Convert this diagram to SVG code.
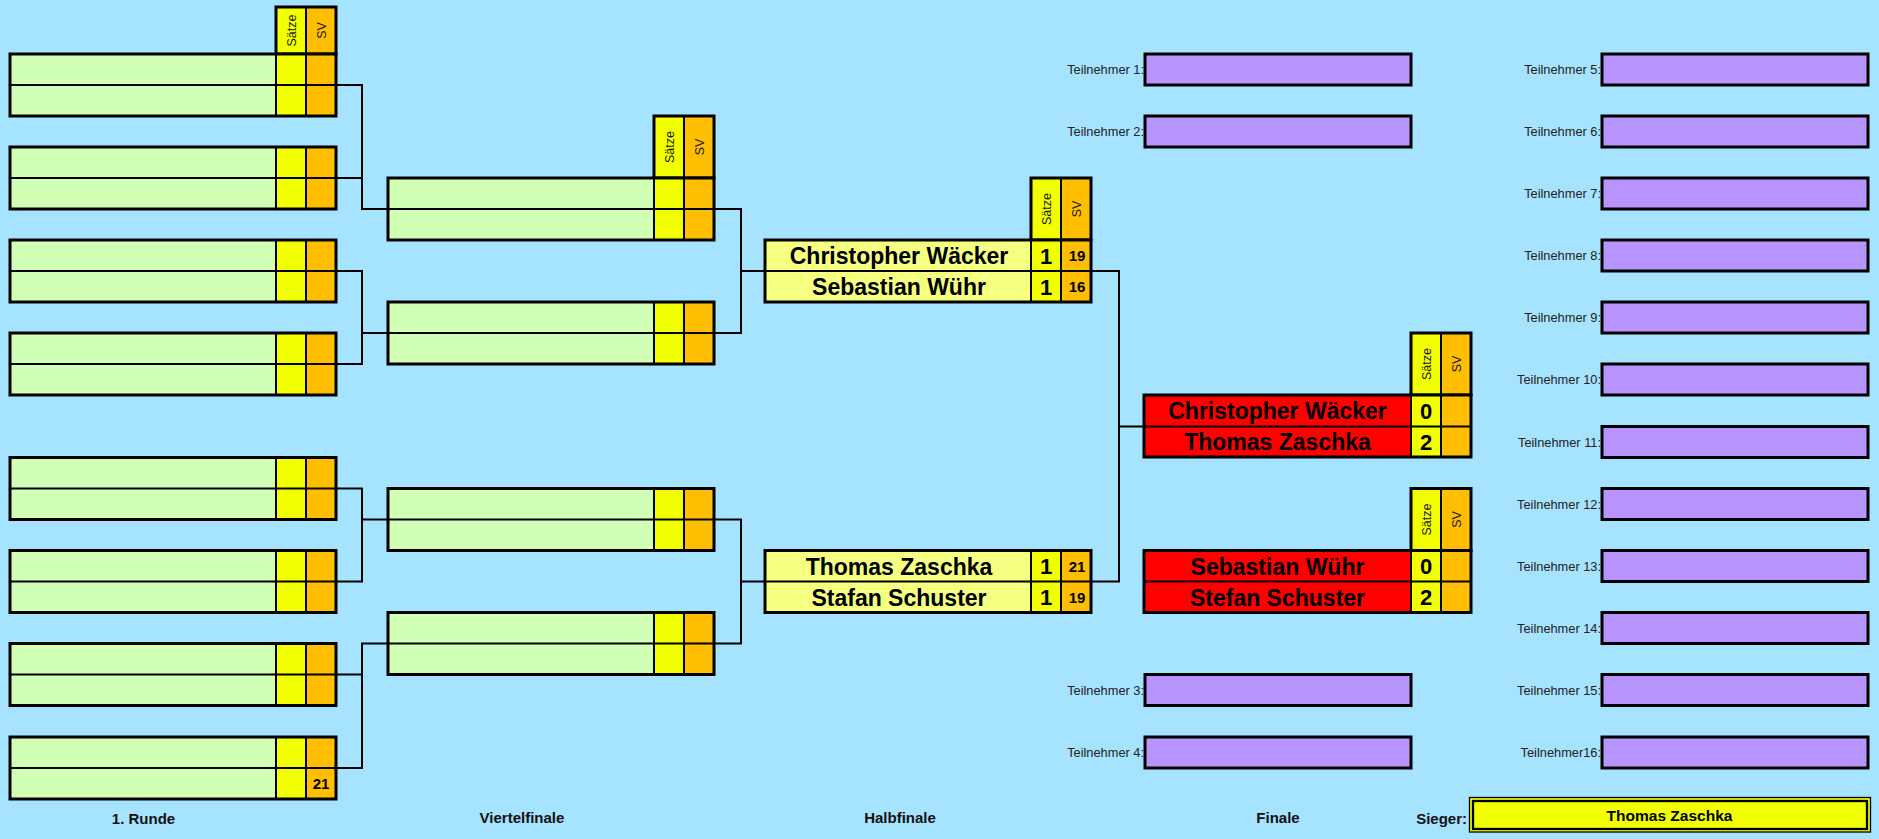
<svg xmlns="http://www.w3.org/2000/svg" width="1879" height="839" viewBox="0 0 1879 839">
<style>
.bg{fill:#A6E3FF}
.gr{fill:#D2FFB6}
.ye{fill:#F2FF00}
.or{fill:#FFBF00}
.ly{fill:#F5FF80}
.rd{fill:#FF0000}
.pu{fill:#B894FF}
.ol{fill:none;stroke:#000;stroke-width:3}
.il{fill:none;stroke:#000;stroke-width:2}
.cn{fill:none;stroke:#000;stroke-width:2}
text{font-family:"Liberation Sans",Arial,sans-serif;fill:#000}
.hd{font-size:12.5px;fill:#1a1a1a;text-anchor:middle}
.nm{font-size:23px;font-weight:bold;text-anchor:middle}
.st{font-size:22px;font-weight:bold;text-anchor:middle}
.sv{font-size:15px;font-weight:bold;text-anchor:middle}
.lb{font-size:12.8px;fill:#222;text-anchor:end}
.rn{font-size:15px;font-weight:bold;text-anchor:middle;fill:#111}
</style>
<rect class="bg" x="0" y="0" width="1879" height="839"/>

<g id="connectors">
<path class="cn" d="M336 85H362V209H388M336 178H362"/>
<path class="cn" d="M336 271H362V364H336M362 333H388"/>
<path class="cn" d="M336 488.5H362V581.5H336M362 519.5H388"/>
<path class="cn" d="M336 674.5H362M336 768H362V643.5H388"/>
<path class="cn" d="M714 209H741V333H714M741 271H765"/>
<path class="cn" d="M714 519.5H741V643.5H714M741 581.5H765"/>
<path class="cn" d="M1091 271H1119V581.5H1091M1119 426.5H1144"/>
</g>

<!-- Round 1 -->
<g id="r1-m1">
<rect class="ye" x="276" y="7" width="30" height="47"/><rect class="or" x="306" y="7" width="30" height="47"/>
<path class="il" d="M306 7V54"/><rect class="ol" x="276" y="7" width="60" height="47"/>
<text class="hd" transform="translate(295.5 30.5) rotate(-90)">Sätze</text>
<text class="hd" transform="translate(325.5 30.5) rotate(-90)">SV</text>
<rect class="gr" x="10" y="54" width="266" height="62"/><rect class="ye" x="276" y="54" width="30" height="62"/><rect class="or" x="306" y="54" width="30" height="62"/>
<path class="il" d="M10 85H336M276 54V116M306 54V116"/><rect class="ol" x="10" y="54" width="326" height="62"/>
</g>
<g id="r1-m2">
<rect class="gr" x="10" y="147" width="266" height="62"/><rect class="ye" x="276" y="147" width="30" height="62"/><rect class="or" x="306" y="147" width="30" height="62"/>
<path class="il" d="M10 178H336M276 147V209M306 147V209"/><rect class="ol" x="10" y="147" width="326" height="62"/>
</g>
<g id="r1-m3">
<rect class="gr" x="10" y="240" width="266" height="62"/><rect class="ye" x="276" y="240" width="30" height="62"/><rect class="or" x="306" y="240" width="30" height="62"/>
<path class="il" d="M10 271H336M276 240V302M306 240V302"/><rect class="ol" x="10" y="240" width="326" height="62"/>
</g>
<g id="r1-m4">
<rect class="gr" x="10" y="333" width="266" height="62"/><rect class="ye" x="276" y="333" width="30" height="62"/><rect class="or" x="306" y="333" width="30" height="62"/>
<path class="il" d="M10 364H336M276 333V395M306 333V395"/><rect class="ol" x="10" y="333" width="326" height="62"/>
</g>
<g id="r1-m5">
<rect class="gr" x="10" y="457.5" width="266" height="62"/><rect class="ye" x="276" y="457.5" width="30" height="62"/><rect class="or" x="306" y="457.5" width="30" height="62"/>
<path class="il" d="M10 488.5H336M276 457.5V519.5M306 457.5V519.5"/><rect class="ol" x="10" y="457.5" width="326" height="62"/>
</g>
<g id="r1-m6">
<rect class="gr" x="10" y="550.5" width="266" height="62"/><rect class="ye" x="276" y="550.5" width="30" height="62"/><rect class="or" x="306" y="550.5" width="30" height="62"/>
<path class="il" d="M10 581.5H336M276 550.5V612.5M306 550.5V612.5"/><rect class="ol" x="10" y="550.5" width="326" height="62"/>
</g>
<g id="r1-m7">
<rect class="gr" x="10" y="643.5" width="266" height="62"/><rect class="ye" x="276" y="643.5" width="30" height="62"/><rect class="or" x="306" y="643.5" width="30" height="62"/>
<path class="il" d="M10 674.5H336M276 643.5V705.5M306 643.5V705.5"/><rect class="ol" x="10" y="643.5" width="326" height="62"/>
</g>
<g id="r1-m8">
<rect class="gr" x="10" y="737" width="266" height="62"/><rect class="ye" x="276" y="737" width="30" height="62"/><rect class="or" x="306" y="737" width="30" height="62"/>
<path class="il" d="M10 768H336M276 737V799M306 737V799"/><rect class="ol" x="10" y="737" width="326" height="62"/>
<text class="sv" x="321" y="789">21</text>
</g>

<!-- Viertelfinale -->
<g id="qf-m1">
<rect class="ye" x="654" y="116" width="30" height="62"/><rect class="or" x="684" y="116" width="30" height="62"/>
<path class="il" d="M684 116V178"/><rect class="ol" x="654" y="116" width="60" height="62"/>
<text class="hd" transform="translate(673.5 147) rotate(-90)">Sätze</text>
<text class="hd" transform="translate(703.5 147) rotate(-90)">SV</text>
<rect class="gr" x="388" y="178" width="266" height="62"/><rect class="ye" x="654" y="178" width="30" height="62"/><rect class="or" x="684" y="178" width="30" height="62"/>
<path class="il" d="M388 209H714M654 178V240M684 178V240"/><rect class="ol" x="388" y="178" width="326" height="62"/>
</g>
<g id="qf-m2">
<rect class="gr" x="388" y="302" width="266" height="62"/><rect class="ye" x="654" y="302" width="30" height="62"/><rect class="or" x="684" y="302" width="30" height="62"/>
<path class="il" d="M388 333H714M654 302V364M684 302V364"/><rect class="ol" x="388" y="302" width="326" height="62"/>
</g>
<g id="qf-m3">
<rect class="gr" x="388" y="488.5" width="266" height="62"/><rect class="ye" x="654" y="488.5" width="30" height="62"/><rect class="or" x="684" y="488.5" width="30" height="62"/>
<path class="il" d="M388 519.5H714M654 488.5V550.5M684 488.5V550.5"/><rect class="ol" x="388" y="488.5" width="326" height="62"/>
</g>
<g id="qf-m4">
<rect class="gr" x="388" y="612.5" width="266" height="62"/><rect class="ye" x="654" y="612.5" width="30" height="62"/><rect class="or" x="684" y="612.5" width="30" height="62"/>
<path class="il" d="M388 643.5H714M654 612.5V674.5M684 612.5V674.5"/><rect class="ol" x="388" y="612.5" width="326" height="62"/>
</g>

<!-- Halbfinale -->
<g id="hf-m1">
<rect class="ye" x="1031" y="178" width="30" height="62"/><rect class="or" x="1061" y="178" width="30" height="62"/>
<path class="il" d="M1061 178V240"/><rect class="ol" x="1031" y="178" width="60" height="62"/>
<text class="hd" transform="translate(1050.5 209) rotate(-90)">Sätze</text>
<text class="hd" transform="translate(1080.5 209) rotate(-90)">SV</text>
<rect class="ly" x="765" y="240" width="266" height="62"/><rect class="ye" x="1031" y="240" width="30" height="62"/><rect class="or" x="1061" y="240" width="30" height="62"/>
<path class="il" d="M765 271H1091M1031 240V302M1061 240V302"/><rect class="ol" x="765" y="240" width="326" height="62"/>
<text class="nm" x="899" y="264">Christopher Wäcker</text>
<text class="nm" x="899" y="295">Sebastian Wühr</text>
<text class="st" x="1046" y="263.5">1</text>
<text class="st" x="1046" y="294.5">1</text>
<text class="sv" x="1077" y="261">19</text>
<text class="sv" x="1077" y="292">16</text>
</g>
<g id="hf-m2">
<rect class="ly" x="765" y="550.5" width="266" height="62"/><rect class="ye" x="1031" y="550.5" width="30" height="62"/><rect class="or" x="1061" y="550.5" width="30" height="62"/>
<path class="il" d="M765 581.5H1091M1031 550.5V612.5M1061 550.5V612.5"/><rect class="ol" x="765" y="550.5" width="326" height="62"/>
<text class="nm" x="899" y="574.5">Thomas Zaschka</text>
<text class="nm" x="899" y="605.5">Stafan Schuster</text>
<text class="st" x="1046" y="574">1</text>
<text class="st" x="1046" y="605">1</text>
<text class="sv" x="1077" y="571.5">21</text>
<text class="sv" x="1077" y="602.5">19</text>
</g>

<!-- Finale -->
<g id="f-m1">
<rect class="ye" x="1411" y="333" width="30" height="62"/><rect class="or" x="1441" y="333" width="30" height="62"/>
<path class="il" d="M1441 333V395"/><rect class="ol" x="1411" y="333" width="60" height="62"/>
<text class="hd" transform="translate(1430.5 364) rotate(-90)">Sätze</text>
<text class="hd" transform="translate(1460.5 364) rotate(-90)">SV</text>
<rect class="rd" x="1144" y="395" width="267" height="62"/><rect class="ye" x="1411" y="395" width="30" height="62"/><rect class="or" x="1441" y="395" width="30" height="62"/>
<path class="il" d="M1144 426.5H1471M1411 395V457M1441 395V457"/><rect class="ol" x="1144" y="395" width="327" height="62"/>
<text class="nm" x="1277.5" y="419">Christopher Wäcker</text>
<text class="nm" x="1277.5" y="450">Thomas Zaschka</text>
<text class="st" x="1426" y="418.5">0</text>
<text class="st" x="1426" y="449.5">2</text>
</g>
<g id="f-m2">
<rect class="ye" x="1411" y="488.5" width="30" height="62"/><rect class="or" x="1441" y="488.5" width="30" height="62"/>
<path class="il" d="M1441 488.5V550.5"/><rect class="ol" x="1411" y="488.5" width="60" height="62"/>
<text class="hd" transform="translate(1430.5 519.5) rotate(-90)">Sätze</text>
<text class="hd" transform="translate(1460.5 519.5) rotate(-90)">SV</text>
<rect class="rd" x="1144" y="550.5" width="267" height="62"/><rect class="ye" x="1411" y="550.5" width="30" height="62"/><rect class="or" x="1441" y="550.5" width="30" height="62"/>
<path class="il" d="M1144 581.5H1471M1411 550.5V612.5M1441 550.5V612.5"/><rect class="ol" x="1144" y="550.5" width="327" height="62"/>
<text class="nm" x="1277.5" y="574.5">Sebastian Wühr</text>
<text class="nm" x="1277.5" y="605.5">Stefan Schuster</text>
<text class="st" x="1426" y="574">0</text>
<text class="st" x="1426" y="605">2</text>
</g>

<!-- Teilnehmer -->
<g id="t1"><rect class="pu" x="1145" y="54" width="266" height="31"/><rect class="ol" x="1145" y="54" width="266" height="31"/><text class="lb" x="1144" y="74">Teilnehmer 1:</text></g>
<g id="t2"><rect class="pu" x="1145" y="116" width="266" height="31"/><rect class="ol" x="1145" y="116" width="266" height="31"/><text class="lb" x="1144" y="136">Teilnehmer 2:</text></g>
<g id="t3"><rect class="pu" x="1145" y="674.5" width="266" height="31"/><rect class="ol" x="1145" y="674.5" width="266" height="31"/><text class="lb" x="1144" y="694.5">Teilnehmer 3:</text></g>
<g id="t4"><rect class="pu" x="1145" y="737" width="266" height="31"/><rect class="ol" x="1145" y="737" width="266" height="31"/><text class="lb" x="1144" y="757">Teilnehmer 4:</text></g>
<g id="t5"><rect class="pu" x="1602" y="54" width="266" height="31"/><rect class="ol" x="1602" y="54" width="266" height="31"/><text class="lb" x="1601" y="74">Teilnehmer 5:</text></g>
<g id="t6"><rect class="pu" x="1602" y="116" width="266" height="31"/><rect class="ol" x="1602" y="116" width="266" height="31"/><text class="lb" x="1601" y="136">Teilnehmer 6:</text></g>
<g id="t7"><rect class="pu" x="1602" y="178" width="266" height="31"/><rect class="ol" x="1602" y="178" width="266" height="31"/><text class="lb" x="1601" y="198">Teilnehmer 7:</text></g>
<g id="t8"><rect class="pu" x="1602" y="240" width="266" height="31"/><rect class="ol" x="1602" y="240" width="266" height="31"/><text class="lb" x="1601" y="260">Teilnehmer 8:</text></g>
<g id="t9"><rect class="pu" x="1602" y="302" width="266" height="31"/><rect class="ol" x="1602" y="302" width="266" height="31"/><text class="lb" x="1601" y="322">Teilnehmer 9:</text></g>
<g id="t10"><rect class="pu" x="1602" y="364" width="266" height="31"/><rect class="ol" x="1602" y="364" width="266" height="31"/><text class="lb" x="1601" y="384">Teilnehmer 10:</text></g>
<g id="t11"><rect class="pu" x="1602" y="426.5" width="266" height="31"/><rect class="ol" x="1602" y="426.5" width="266" height="31"/><text class="lb" x="1601" y="446.5">Teilnehmer 11:</text></g>
<g id="t12"><rect class="pu" x="1602" y="488.5" width="266" height="31"/><rect class="ol" x="1602" y="488.5" width="266" height="31"/><text class="lb" x="1601" y="508.5">Teilnehmer 12:</text></g>
<g id="t13"><rect class="pu" x="1602" y="550.5" width="266" height="31"/><rect class="ol" x="1602" y="550.5" width="266" height="31"/><text class="lb" x="1601" y="570.5">Teilnehmer 13:</text></g>
<g id="t14"><rect class="pu" x="1602" y="612.5" width="266" height="31"/><rect class="ol" x="1602" y="612.5" width="266" height="31"/><text class="lb" x="1601" y="632.5">Teilnehmer 14:</text></g>
<g id="t15"><rect class="pu" x="1602" y="674.5" width="266" height="31"/><rect class="ol" x="1602" y="674.5" width="266" height="31"/><text class="lb" x="1601" y="694.5">Teilnehmer 15:</text></g>
<g id="t16"><rect class="pu" x="1602" y="737" width="266" height="31"/><rect class="ol" x="1602" y="737" width="266" height="31"/><text class="lb" x="1601" y="757">Teilnehmer16:</text></g>

<!-- Round labels -->
<g id="labels">
<text class="rn" x="143.5" y="824">1. Runde</text>
<text class="rn" x="522" y="823">Viertelfinale</text>
<text class="rn" x="900" y="823">Halbfinale</text>
<text class="rn" x="1278" y="823">Finale</text>
<text class="rn" x="1467" y="824" style="text-anchor:end">Sieger:</text>
</g>

<g id="sieger">
<rect class="ye" x="1469.5" y="797.5" width="401" height="34.5"/>
<rect x="1469.5" y="797.5" width="401" height="34.5" fill="none" stroke="#000" stroke-width="1.3"/>
<rect x="1473" y="801" width="394" height="28" fill="none" stroke="#000" stroke-width="2.3"/>
<text x="1669.5" y="820.5" style="font-size:15.5px;font-weight:bold;text-anchor:middle">Thomas Zaschka</text>
</g>
</svg>
